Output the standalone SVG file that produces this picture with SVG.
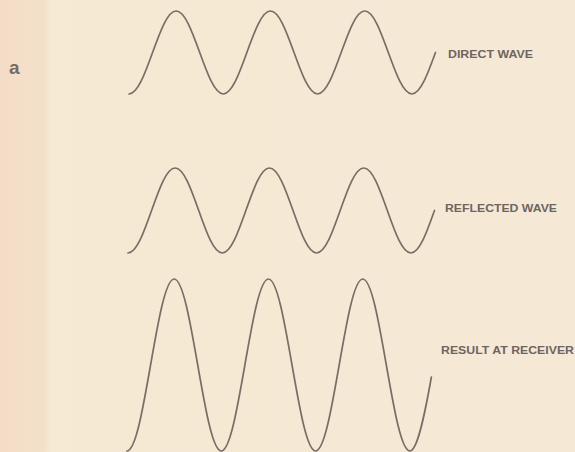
<svg xmlns="http://www.w3.org/2000/svg" width="575" height="452" viewBox="0 0 575 452">
  <style>
    .wave { fill: none; stroke: #7a6d66; stroke-width: 1.7; stroke-linecap: round; stroke-linejoin: round; }
    .label { font-family: "Liberation Sans", Arial, sans-serif; font-weight: bold; font-size: 10px; fill: #6e6560; }
    .tag { font-family: "Liberation Sans", Arial, sans-serif; font-weight: bold; font-size: 19px; fill: #756b64; }
  </style>
  <defs>
    <linearGradient id="paper" x1="0" y1="0" x2="575" y2="0" gradientUnits="userSpaceOnUse">
      <stop offset="0" stop-color="#f4ddc7"/>
      <stop offset="0.075" stop-color="#f4e0ca"/>
      <stop offset="0.09" stop-color="#f6ead3"/>
      <stop offset="0.15" stop-color="#f5e9d4"/>
      <stop offset="1" stop-color="#f5e9d6"/>
    </linearGradient>
  </defs>
  <rect x="0" y="0" width="575" height="452" fill="url(#paper)"/>

  <text class="tag" x="9" y="74">a</text>

  <g id="direct-wave">
    <path class="wave" d="M 129,94 c 8.532,0 15.886,-20.24 23.575,-41.5 s 15.043,-41.5 23.575,-41.5 s 15.886,20.24 23.575,41.5 s 15.043,41.5 23.575,41.5 s 15.886,-20.24 23.575,-41.5 s 15.043,-41.5 23.575,-41.5 s 15.886,20.24 23.575,41.5 s 15.043,41.5 23.575,41.5 s 15.886,-20.24 23.575,-41.5 s 15.043,-41.5 23.575,-41.5 s 15.886,20.24 23.575,41.5 s 15.043,41.5 23.575,41.5 s 15.886,-20.24 23.575,-41.5"/>
    <text class="label" x="448" y="57.5" textLength="85" lengthAdjust="spacingAndGlyphs">DIRECT WAVE</text>
  </g>

  <g id="reflected-wave">
    <path class="wave" d="M 128,253 c 8.532,0 15.886,-20.73 23.575,-42.5 s 15.043,-42.5 23.575,-42.5 s 15.886,20.73 23.575,42.5 s 15.043,42.5 23.575,42.5 s 15.886,-20.73 23.575,-42.5 s 15.043,-42.5 23.575,-42.5 s 15.886,20.73 23.575,42.5 s 15.043,42.5 23.575,42.5 s 15.886,-20.73 23.575,-42.5 s 15.043,-42.5 23.575,-42.5 s 15.886,20.73 23.575,42.5 s 15.043,42.5 23.575,42.5 s 15.886,-20.73 23.575,-42.5"/>
    <text class="label" x="445" y="212" textLength="112" lengthAdjust="spacingAndGlyphs">REFLECTED WAVE</text>
  </g>

  <g id="result-wave">
    <path class="wave" d="M 127,451 c 8.532,0 15.886,-41.94 23.575,-86 s 15.043,-86 23.575,-86 s 15.886,41.94 23.575,86 s 15.043,86 23.575,86 s 15.886,-41.94 23.575,-86 s 15.043,-86 23.575,-86 s 15.886,41.94 23.575,86 s 15.043,86 23.575,86 s 15.886,-41.94 23.575,-86 s 15.043,-86 23.575,-86 s 15.886,41.94 23.575,86 s 15.043,86 23.575,86 c 7.159,0 14.32,-33.38 21.48,-74"/>
    <text class="label" x="441" y="353.5" textLength="133" lengthAdjust="spacingAndGlyphs">RESULT AT RECEIVER</text>
  </g>

  <g id="connectors"></g>
</svg>
